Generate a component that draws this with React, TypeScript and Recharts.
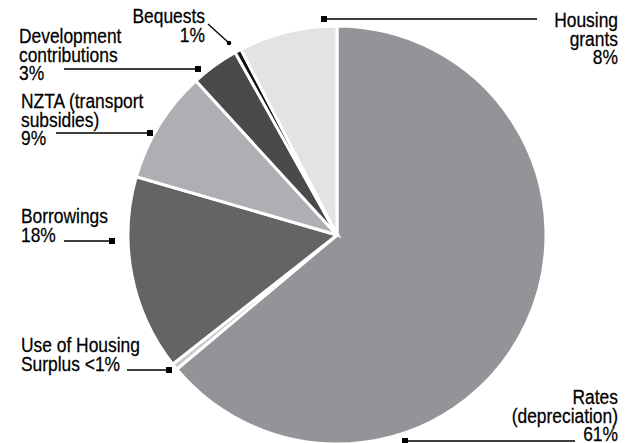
import React from "react";
import { PieChart, Pie, Cell } from "recharts";

// Funding sources, clockwise from 12 o'clock
const names = [
  "Rates (depreciation)",
  "Use of Housing Surplus",
  "Borrowings",
  "NZTA (transport subsidies)",
  "Development contributions",
  "Bequests",
  "Housing grants",
];
const values = [63.9, 0.5, 15.1, 8.7, 3.7, 0.5, 7.6];
const labelLines = [
  ["Rates", "(depreciation)", "61%"],
  ["Use of Housing", "Surplus <1%"],
  ["Borrowings", "18%"],
  ["NZTA (transport", "subsidies)", "9%"],
  ["Development", "contributions", "3%"],
  ["Bequests", "1%"],
  ["Housing", "grants", "8%"],
];

const COLORS = [
  "#939498", // rates
  "#c9cacc", // housing surplus
  "#636466", // borrowings
  "#aeafb2", // nzta
  "#4a4a4c", // development
  "#111111", // bequests
  "#e2e3e5", // housing grants
];

// callout layout (text anchor + leader line), same order as names
type Callout = {
  x: number;
  y: number;
  anchor: "start" | "end";
  line: [number, number, number, number];
  marker: "square" | "dot";
};
const callouts: Callout[] = [
  { x: 618, y: 404, anchor: "end", line: [575, 441, 405, 441], marker: "square" },
  { x: 21, y: 352, anchor: "start", line: [127, 370, 169, 370], marker: "square" },
  { x: 21, y: 223, anchor: "start", line: [64, 241, 112, 241], marker: "square" },
  { x: 21, y: 108, anchor: "start", line: [56, 133, 150, 133], marker: "square" },
  { x: 19, y: 43, anchor: "start", line: [64, 69, 198, 69], marker: "square" },
  { x: 205, y: 23, anchor: "end", line: [208, 24, 229, 43], marker: "dot" },
  { x: 618, y: 27, anchor: "end", line: [537, 19, 324, 19], marker: "square" },
];

const chartData = names.map((name, i) => ({ name, value: values[i] }));

const FONT = "'Liberation Sans', Arial, sans-serif";
const LINE_H = 18.7;
const SQUEEZE = 0.87; // the original type is a condensed grotesque

const App: React.FC = () => {
  return (
    <div style={{ position: "relative", width: 630, height: 443, overflow: "hidden", background: "#fff" }}>
      <style>{`body{margin:0}`}</style>
      <PieChart width={630} height={443} margin={{ top: 0, right: 0, bottom: 0, left: 0 }}>
        <Pie
          data={chartData}
          dataKey="value"
          nameKey="name"
          cx={337}
          cy={235}
          innerRadius={0}
          outerRadius={209}
          startAngle={90}
          endAngle={-270}
          stroke="#ffffff"
          strokeWidth={3}
          isAnimationActive={false}
        >
          {chartData.map((entry, index) => (
            <Cell key={`cell-${index}`} fill={COLORS[index]} />
          ))}
        </Pie>
      </PieChart>
      <svg
        width={630}
        height={443}
        style={{ position: "absolute", left: 0, top: 0, pointerEvents: "none" }}
      >
        {callouts.map((c, i) => {
          const [x1, y1, x2, y2] = c.line;
          return (
            <g key={names[i]}>
              <line x1={x1} y1={y1} x2={x2} y2={y2} stroke="#000" strokeWidth={1.3} />
              {c.marker === "square" ? (
                <rect x={x2 - 3} y={y2 - 3} width={6} height={6} fill="#000" />
              ) : (
                <circle cx={x2} cy={y2} r={2.3} fill="#000" />
              )}
              <g transform={`translate(${c.x},0) scale(${SQUEEZE},1) translate(${-c.x},0)`}>
                <text
                  x={c.x}
                  y={c.y}
                  textAnchor={c.anchor}
                  fontFamily={FONT}
                  fontSize={20}
                  fill="#000"
                  stroke="#000"
                  strokeWidth={0.25}
                >
                  {labelLines[i].map((t, j) => (
                    <tspan key={j} x={c.x} y={c.y + j * LINE_H}>
                      {t}
                    </tspan>
                  ))}
                </text>
              </g>
            </g>
          );
        })}
      </svg>
    </div>
  );
};

export default App;
